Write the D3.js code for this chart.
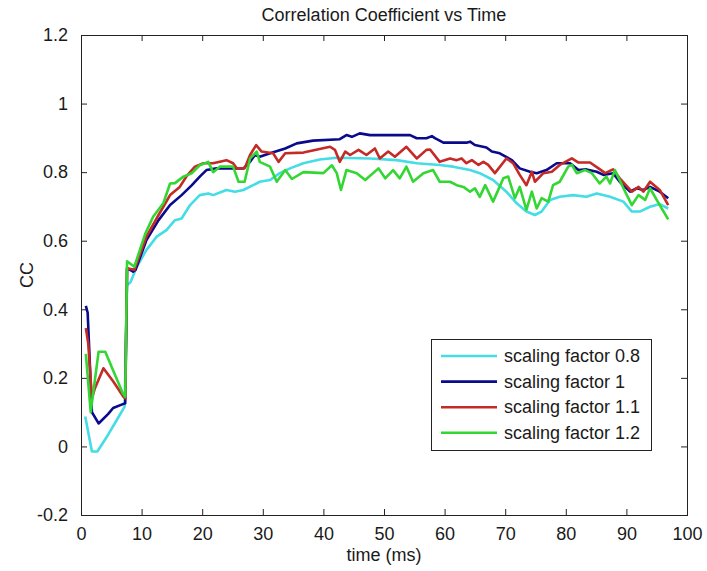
<!DOCTYPE html>
<html>
<head>
<meta charset="utf-8">
<script src="https://cdn.jsdelivr.net/npm/d3@7"></script>
<style>
  html, body { margin: 0; padding: 0; background: #fff; }
  svg { display: block; }
  text { font-family: "Liberation Sans", Arial, sans-serif; fill: #1a1a1a; }
</style>
</head>
<body>
<script>
// Correlation coefficient (CC) against time, one trace per scaling factor.
// Each trace is a list of [time in ms, CC] samples.
const sf08 = [[0.7,0.087],[1.8,-0.015],[2.7,-0.015],[4.5,0.035],[6.0,0.08],[7.2,0.116],[7.6,0.47],[8.2,0.48],[9.2,0.524],[10.8,0.573],[12.5,0.612],[14.1,0.631],[15.5,0.66],[16.6,0.665],[18.0,0.704],[19.6,0.733],[21.0,0.738],[21.8,0.733],[24.0,0.748],[25.4,0.743],[26.8,0.748],[28.4,0.762],[29.5,0.772],[31.2,0.777],[32.8,0.797],[34.5,0.811],[36.7,0.826],[39.4,0.837],[42.2,0.842],[47.7,0.84],[52.1,0.835],[55.4,0.826],[59.2,0.821],[61.4,0.816],[64.2,0.806],[65.8,0.797],[68.0,0.777],[70.2,0.743],[71.9,0.709],[73.5,0.685],[74.9,0.675],[76.0,0.685],[77.4,0.719],[79.0,0.728],[81.2,0.733],[83.4,0.728],[85.1,0.738],[87.3,0.728],[89.5,0.714],[90.9,0.685],[92.2,0.685],[93.9,0.699],[95.5,0.707],[96.9,0.694]];

const sf10 = [[0.8,0.41],[1.1,0.39],[1.8,0.10],[2.9,0.067],[4.5,0.095],[5.3,0.112],[6.7,0.122],[7.3,0.126],[7.6,0.52],[8.6,0.51],[9.0,0.515],[10.8,0.602],[12.8,0.66],[14.7,0.704],[16.6,0.733],[18.3,0.762],[19.6,0.787],[20.7,0.806],[22.4,0.811],[26.8,0.811],[27.9,0.83],[28.7,0.85],[29.5,0.845],[31.2,0.855],[33.7,0.869],[35.6,0.884],[38.3,0.892],[42.7,0.896],[43.8,0.908],[44.7,0.903],[46.0,0.913],[47.7,0.908],[54.3,0.908],[55.4,0.899],[57.0,0.899],[57.9,0.905],[58.4,0.899],[59.8,0.886],[63.6,0.886],[64.2,0.889],[65.0,0.879],[66.9,0.872],[67.8,0.86],[69.1,0.855],[71.1,0.835],[72.4,0.811],[74.1,0.801],[75.2,0.797],[76.8,0.806],[78.5,0.826],[80.7,0.826],[82.1,0.806],[83.4,0.808],[85.1,0.801],[86.2,0.792],[87.8,0.797],[88.9,0.772],[90.6,0.743],[91.7,0.753],[92.8,0.748],[93.9,0.757],[95.5,0.743],[96.9,0.724]];

const sf11 = [[0.8,0.345],[1.2,0.30],[1.8,0.14],[2.3,0.17],[3.7,0.228],[5.3,0.19],[7.0,0.145],[7.3,0.14],[7.6,0.52],[8.8,0.515],[10.8,0.612],[12.8,0.675],[14.7,0.733],[16.3,0.757],[17.5,0.79],[18.8,0.816],[20.2,0.826],[21.8,0.826],[24.0,0.835],[25.1,0.826],[25.7,0.811],[27.0,0.811],[27.9,0.85],[28.9,0.879],[29.8,0.86],[31.7,0.855],[32.6,0.83],[33.7,0.855],[36.7,0.857],[41.1,0.874],[41.9,0.865],[42.7,0.83],[43.6,0.86],[44.4,0.85],[45.8,0.865],[47.1,0.85],[48.5,0.869],[49.3,0.84],[50.7,0.86],[51.8,0.845],[53.7,0.874],[55.4,0.84],[57.0,0.865],[57.6,0.866],[59.2,0.83],[60.9,0.84],[62.0,0.835],[62.8,0.84],[63.6,0.826],[64.5,0.835],[65.6,0.821],[66.4,0.83],[67.2,0.821],[68.3,0.797],[70.2,0.84],[71.3,0.826],[72.4,0.792],[73.5,0.762],[74.4,0.801],[74.9,0.772],[76.3,0.797],[77.7,0.801],[79.0,0.821],[81.0,0.84],[82.1,0.828],[84.0,0.828],[85.4,0.811],[86.5,0.797],[87.8,0.808],[88.9,0.782],[90.9,0.743],[92.0,0.757],[92.8,0.743],[93.9,0.772],[95.5,0.748],[96.9,0.704]];

const sf12 = [[0.8,0.27],[1.6,0.10],[2.9,0.276],[4.0,0.276],[6.9,0.155],[7.3,0.145],[7.6,0.54],[8.8,0.524],[10.6,0.62],[11.9,0.67],[13.6,0.71],[14.7,0.767],[15.5,0.768],[16.9,0.787],[18.3,0.797],[19.6,0.82],[21.0,0.83],[21.8,0.80],[22.9,0.816],[25.1,0.816],[26.0,0.772],[27.0,0.772],[27.9,0.84],[29.0,0.86],[29.5,0.83],[31.2,0.816],[32.3,0.772],[33.7,0.806],[34.8,0.78],[36.7,0.80],[40.0,0.797],[41.4,0.82],[42.2,0.797],[42.9,0.748],[43.8,0.806],[45.5,0.797],[46.9,0.777],[49.1,0.811],[50.2,0.782],[51.5,0.806],[52.6,0.782],[53.7,0.816],[54.8,0.772],[56.5,0.797],[58.1,0.806],[59.2,0.772],[60.9,0.772],[62.0,0.762],[63.1,0.757],[64.2,0.743],[65.0,0.753],[65.8,0.728],[66.7,0.762],[68.0,0.714],[69.7,0.782],[70.5,0.787],[71.6,0.724],[72.4,0.757],[73.5,0.69],[74.4,0.743],[75.2,0.694],[76.0,0.724],[77.1,0.714],[77.9,0.762],[79.0,0.772],[80.4,0.816],[81.0,0.821],[81.8,0.797],[83.2,0.806],[84.3,0.797],[85.6,0.767],[86.7,0.787],[87.3,0.767],[88.1,0.806],[89.8,0.743],[90.9,0.704],[92.0,0.733],[93.1,0.719],[93.9,0.753],[95.5,0.704],[96.9,0.662]];

const seriesNames = ["scaling factor 0.8", "scaling factor 1", "scaling factor 1.1", "scaling factor 1.2"];
const seriesData = [sf08, sf10, sf11, sf12];
const seriesColors = ["#44dde6", "#0a0a8c", "#c42a26", "#33d633"];

const xTicks = [0, 10, 20, 30, 40, 50, 60, 70, 80, 90, 100];
const yTicks = [-0.2, 0, 0.2, 0.4, 0.6, 0.8, 1, 1.2];

const W = 707, H = 571;
const plotLeft = 81, plotRight = 687, plotTop = 35, plotBottom = 515;
const fontSize = 18;

const svg = d3.select("body").append("svg")
  .attr("width", W).attr("height", H);

svg.append("rect").attr("width", W).attr("height", H).attr("fill", "#fff");

const x = d3.scaleLinear().domain([0, 100]).range([plotLeft, plotRight]);
const y = d3.scaleLinear().domain([-0.2, 1.2]).range([plotBottom, plotTop]);

const fmt = d => String(Math.round(d * 10) / 10);

// Inward ticks on all four sides, labels only on bottom and left
function styleAxis(g) {
  g.select(".domain").remove();
  g.selectAll(".tick line").attr("stroke", "#222").attr("stroke-width", 1);
  g.selectAll(".tick text")
    .attr("font-size", fontSize)
    .attr("font-family", '"Liberation Sans", Arial, sans-serif')
    .attr("fill", "#1a1a1a");
}

svg.append("g").attr("transform", `translate(0,${plotBottom})`)
  .call(d3.axisBottom(x).tickValues(xTicks).tickFormat(fmt).tickSizeInner(-6).tickSizeOuter(0).tickPadding(12))
  .call(styleAxis);
svg.append("g").attr("transform", `translate(0,${plotTop})`)
  .call(d3.axisTop(x).tickValues(xTicks).tickFormat("").tickSizeInner(-6).tickSizeOuter(0))
  .call(styleAxis);
svg.append("g").attr("transform", `translate(${plotLeft},0)`)
  .call(d3.axisLeft(y).tickValues(yTicks).tickFormat(fmt).tickSizeInner(-6).tickSizeOuter(0).tickPadding(13))
  .call(styleAxis);
svg.append("g").attr("transform", `translate(${plotRight},0)`)
  .call(d3.axisRight(y).tickValues(yTicks).tickFormat("").tickSizeInner(-6).tickSizeOuter(0))
  .call(styleAxis);

// Axes box
svg.append("rect")
  .attr("x", plotLeft + 0.5).attr("y", plotTop + 0.5)
  .attr("width", plotRight - plotLeft).attr("height", plotBottom - plotTop)
  .attr("fill", "none").attr("stroke", "#222").attr("stroke-width", 1);

// Traces
const line = d3.line().x(d => x(d[0])).y(d => y(d[1]));
svg.append("g").selectAll("path")
  .data(seriesData)
  .join("path")
  .attr("d", line)
  .attr("fill", "none")
  .attr("stroke", (d, i) => seriesColors[i])
  .attr("stroke-width", 2.6)
  .attr("stroke-linejoin", "round");

// Title and axis labels
svg.append("text")
  .attr("x", (plotLeft + plotRight) / 2).attr("y", 15)
  .attr("text-anchor", "middle").attr("dominant-baseline", "central")
  .attr("font-size", fontSize)
  .text("Correlation Coefficient vs Time");

svg.append("text")
  .attr("x", (plotLeft + plotRight) / 2).attr("y", 555)
  .attr("text-anchor", "middle").attr("dominant-baseline", "central")
  .attr("font-size", fontSize)
  .text("time (ms)");

svg.append("text")
  .attr("transform", `translate(27,${(plotTop + plotBottom) / 2}) rotate(-90)`)
  .attr("text-anchor", "middle").attr("dominant-baseline", "central")
  .attr("font-size", fontSize)
  .text("CC");

// Legend
const lg = svg.append("g");
lg.append("rect")
  .attr("x", 431.5).attr("y", 339.5).attr("width", 220).attr("height", 111)
  .attr("fill", "#fff").attr("stroke", "#222").attr("stroke-width", 1);
seriesNames.forEach((name, i) => {
  const ry = 356 + i * 25.6;
  lg.append("line")
    .attr("x1", 441).attr("x2", 497).attr("y1", ry).attr("y2", ry)
    .attr("stroke", seriesColors[i]).attr("stroke-width", 2.6);
  lg.append("text")
    .attr("x", 504).attr("y", ry)
    .attr("dominant-baseline", "central")
    .attr("font-size", fontSize)
    .text(name);
});
</script>
</body>
</html>
